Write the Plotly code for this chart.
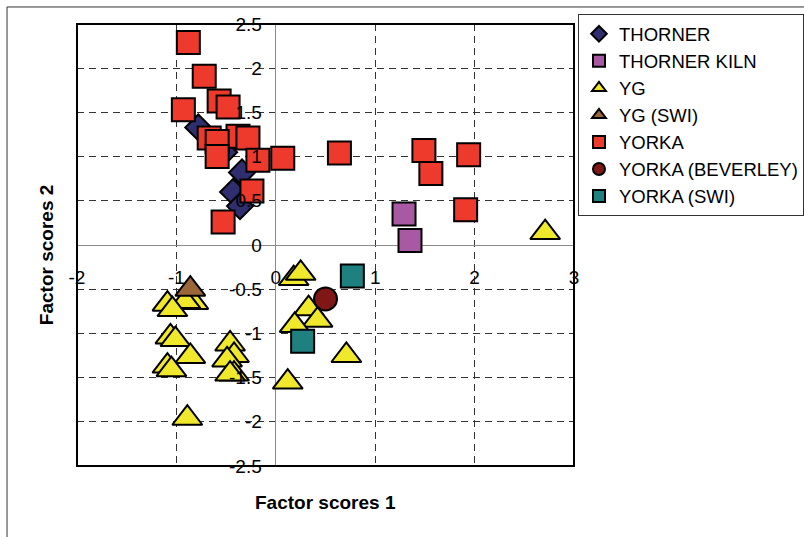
import plotly.graph_objects as go

# Factor scores (F1, F2) per sample group
thorner_x = [-0.78, -0.46, -0.52, -0.34, -0.43, -0.36]
thorner_y = [1.33, 1.17, 1.05, 0.82, 0.60, 0.44]

thorner_kiln_x = [1.29, 1.35]
thorner_kiln_y = [0.35, 0.05]

yg_x = [2.71, 0.18, 0.25, 0.33, 0.42, 0.19, 0.71, 0.12,
        -0.83, -0.91, -1.09, -1.04, -1.06, -1.01, -0.86, -1.09, -1.05, -0.89,
        -0.46, -0.42, -0.49, -0.42, -0.46]
yg_y = [0.14, -0.38, -0.32, -0.72, -0.85, -0.91, -1.25, -1.55,
        -0.65, -0.64, -0.67, -0.73, -1.04, -1.07, -1.26, -1.37, -1.41, -1.96,
        -1.12, -1.25, -1.30, -1.46, -1.46]

yg_swi_x = [-0.86]
yg_swi_y = [-0.50]

yorka_x = [-0.88, -0.72, -0.57, -0.48, -0.93, -0.67, -0.38, -0.28, -0.59, -0.59,
           -0.18, 0.07, -0.24, -0.53, 0.64, 1.49, 1.56, 1.94, 1.91]
yorka_y = [2.29, 1.91, 1.63, 1.56, 1.53, 1.21, 1.23, 1.21, 1.17, 1.00,
           0.96, 0.98, 0.61, 0.26, 1.04, 1.07, 0.81, 1.02, 0.40]

yorka_beverley_x = [0.50]
yorka_beverley_y = [-0.61]

yorka_swi_x = [0.77, 0.27]
yorka_swi_y = [-0.35, -1.09]

x_ticks = [-2, -1, 0, 1, 2, 3]
x_tick_labels = ["-2", "-1", "0", "1", "2", "3"]
y_ticks = [2.5, 2, 1.5, 1, 0.5, 0, -0.5, -1, -1.5, -2, -2.5]
y_tick_labels = ["2.5", "2", "1.5", "1", "0.5", "0", "-0.5", "-1", "-1.5", "-2", "-2.5"]

FONT = "Liberation Sans, Arial, Helvetica, sans-serif"

series = [
    ("THORNER", thorner_x, thorner_y, "diamond", 20, "#2F2E6E"),
    ("THORNER KILN", thorner_kiln_x, thorner_kiln_y, "square", 23, "#A958A4"),
    ("YG", yg_x, yg_y, "triangle-up", 26, "#F0E82C"),
    ("YG (SWI)", yg_swi_x, yg_swi_y, "triangle-up", 26, "#9A6738"),
    ("YORKA", yorka_x, yorka_y, "square", 23, "#EE3A2D"),
    ("YORKA (BEVERLEY)", yorka_beverley_x, yorka_beverley_y, "circle", 23, "#7E1716"),
    ("YORKA (SWI)", yorka_swi_x, yorka_swi_y, "square", 23, "#1F8080"),
]

fig = go.Figure()
for name, xs, ys, sym, size, color in series:
    fig.add_trace(go.Scatter(
        x=xs, y=ys, mode="markers", name=name,
        marker=dict(symbol=sym, size=size, color=color,
                    line=dict(color="black", width=2)),
    ))

fig.update_layout(
    width=804, height=537,
    margin=dict(l=77, r=230, t=24, b=71, autoexpand=False),
    paper_bgcolor="white", plot_bgcolor="white",
    font=dict(family=FONT, size=19, color="black"),
    legend=dict(
        x=1.008, y=1.022, xanchor="left", yanchor="top",
        bordercolor="#333333", borderwidth=1, bgcolor="white",
        font=dict(family=FONT, size=18.5, color="black"),
        itemsizing="constant",
    ),
    xaxis=dict(
        range=[-2, 3], tickvals=x_ticks, ticktext=x_tick_labels,
        showgrid=True, gridcolor="#333333", gridwidth=1, griddash="7px,5px",
        zeroline=True, zerolinecolor="#8a8a8a", zerolinewidth=1,
        showline=False, ticks="", anchor="free", position=0.5,
        ticklabelstandoff=19,
        tickfont=dict(family=FONT, size=19, color="black"),
    ),
    yaxis=dict(
        range=[-2.5, 2.5], tickvals=y_ticks, ticktext=y_tick_labels,
        showgrid=True, gridcolor="#333333", gridwidth=1, griddash="7px,5px",
        zeroline=True, zerolinecolor="#8a8a8a", zerolinewidth=1,
        showline=False, ticks="", anchor="free", position=0.4,
        ticklabelstandoff=14,
        tickfont=dict(family=FONT, size=19, color="black"),
    ),
    shapes=[
        # plot-area frame
        dict(type="rect", xref="x domain", yref="y domain", x0=0, x1=1, y0=0, y1=1,
             line=dict(color="black", width=2), layer="above"),
        # chart-area border
        dict(type="rect", xref="paper", yref="paper", x0=-0.1408, x1=1.48,
             y0=-0.2, y1=1.0385, line=dict(color="#333333", width=1), layer="below"),
    ],
    annotations=[
        dict(text="<b>Factor scores 1</b>", xref="paper", yref="paper",
             x=0.499, y=-0.0837, xanchor="center", yanchor="middle",
             showarrow=False, font=dict(family=FONT, size=19, color="black")),
        dict(text="<b>Factor scores 2</b>", xref="paper", yref="paper",
             x=-0.0624, y=0.477, xanchor="center", yanchor="middle", textangle=-90,
             showarrow=False, font=dict(family=FONT, size=19, color="black")),
    ],
)

fig.write_html("out.html")
